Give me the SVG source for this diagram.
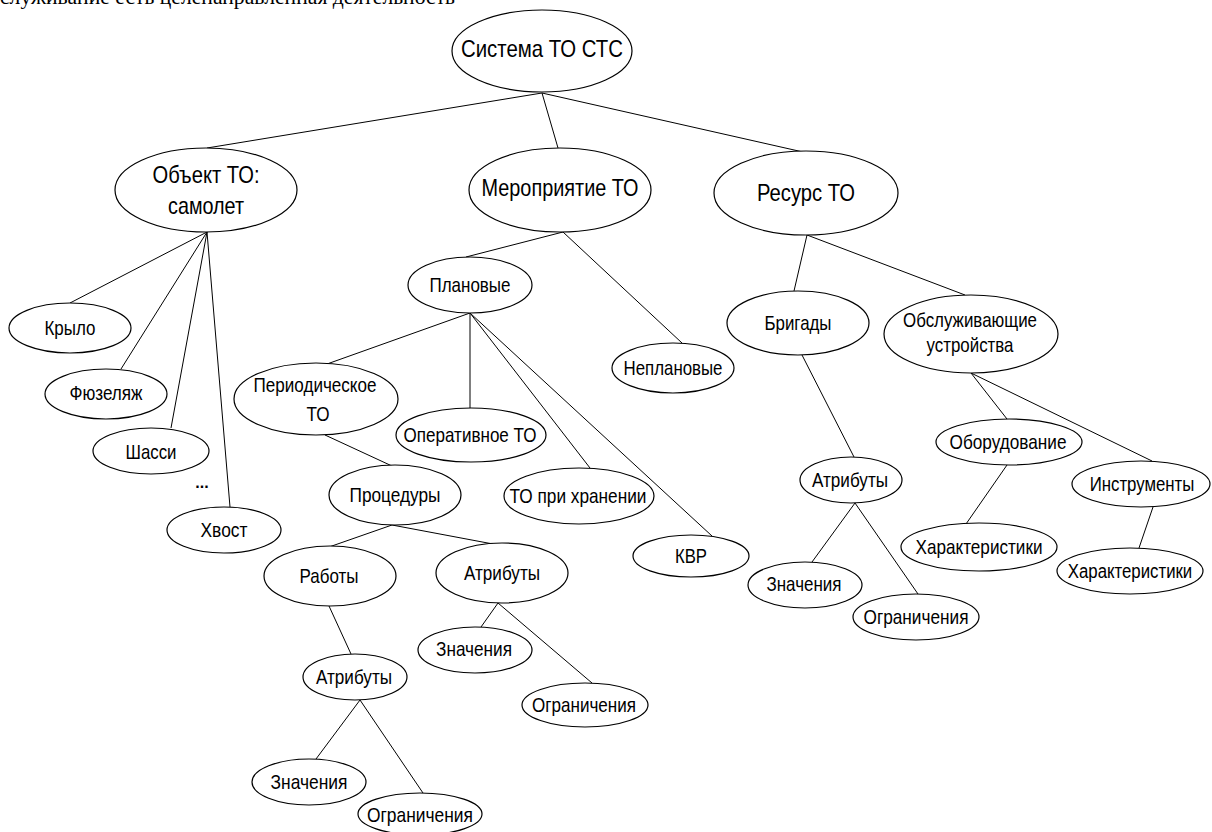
<svg xmlns="http://www.w3.org/2000/svg" width="1212" height="832" viewBox="0 0 1212 832">
<style>
.n ellipse{fill:#fff;stroke:#000;stroke-width:1.2}
.n text{font-family:"Liberation Sans",Arial,sans-serif;font-size:21px;fill:#000;text-anchor:middle}
.n text.L{font-size:24px}
#edges line{stroke:#000;stroke-width:1}
.top{font-family:"Liberation Serif","Times New Roman",serif;font-size:20px;fill:#000}
</style>
<rect width="1212" height="832" fill="#fff"/>
<text class="top" x="0" y="4" textLength="455" lengthAdjust="spacingAndGlyphs">служивание есть целенаправленная деятельность</text>
<g id="edges">
<line x1="542" y1="93" x2="207" y2="148"/>
<line x1="542" y1="93" x2="558" y2="148"/>
<line x1="542" y1="93" x2="803" y2="152"/>
<line x1="207" y1="232" x2="70" y2="303"/>
<line x1="207" y1="232" x2="121" y2="369"/>
<line x1="207" y1="232" x2="171" y2="428"/>
<line x1="207" y1="232" x2="230" y2="507"/>
<line x1="563" y1="232" x2="466" y2="257"/>
<line x1="563" y1="232" x2="682" y2="343"/>
<line x1="807" y1="235" x2="794" y2="291"/>
<line x1="807" y1="235" x2="965" y2="295"/>
<line x1="470" y1="313" x2="327" y2="364"/>
<line x1="470" y1="313" x2="470" y2="408"/>
<line x1="470" y1="313" x2="590" y2="468"/>
<line x1="470" y1="313" x2="712" y2="536"/>
<line x1="802" y1="355" x2="854" y2="457"/>
<line x1="971" y1="373" x2="1007" y2="419"/>
<line x1="971" y1="373" x2="1152" y2="461"/>
<line x1="1007" y1="465" x2="966" y2="524"/>
<line x1="1153" y1="507" x2="1139" y2="548"/>
<line x1="855" y1="503" x2="812" y2="562"/>
<line x1="855" y1="503" x2="918" y2="594"/>
<line x1="325" y1="435" x2="392" y2="466"/>
<line x1="392" y1="525" x2="329" y2="547"/>
<line x1="392" y1="525" x2="493" y2="544"/>
<line x1="329" y1="606" x2="351" y2="654"/>
<line x1="498" y1="603" x2="481" y2="627"/>
<line x1="498" y1="603" x2="592" y2="683"/>
<line x1="360" y1="700" x2="316" y2="759"/>
<line x1="360" y1="700" x2="423" y2="793"/>
</g>
<g id="n_root" class="n"><ellipse cx="542" cy="51" rx="90" ry="41"/><text class="L" x="542" y="57" textLength="162" lengthAdjust="spacingAndGlyphs">Система ТО СТС</text></g>
<g id="n_obj" class="n"><ellipse cx="206" cy="190" rx="91" ry="42"/><text class="L" x="206" y="183" textLength="107" lengthAdjust="spacingAndGlyphs">Объект ТО:</text><text class="L" x="206" y="214" textLength="76" lengthAdjust="spacingAndGlyphs">самолет</text></g>
<g id="n_mer" class="n"><ellipse cx="560" cy="190" rx="91" ry="42"/><text class="L" x="560" y="196" textLength="157" lengthAdjust="spacingAndGlyphs">Мероприятие ТО</text></g>
<g id="n_res" class="n"><ellipse cx="806" cy="193" rx="92" ry="42"/><text class="L" x="806" y="201" textLength="98" lengthAdjust="spacingAndGlyphs">Ресурс ТО</text></g>
<g id="n_kry" class="n"><ellipse cx="70" cy="328" rx="61" ry="25"/><text x="70" y="335" textLength="51" lengthAdjust="spacingAndGlyphs">Крыло</text></g>
<g id="n_fuz" class="n"><ellipse cx="106" cy="394" rx="61" ry="25"/><text x="106" y="400" textLength="73" lengthAdjust="spacingAndGlyphs">Фюзеляж</text></g>
<g id="n_sha" class="n"><ellipse cx="151" cy="451" rx="58" ry="23"/><text x="151" y="459" textLength="51" lengthAdjust="spacingAndGlyphs">Шасси</text></g>
<g id="n_dots" class="n"><text x="202" y="488" style="font-size:16px;font-weight:bold">...</text></g>
<g id="n_hv" class="n"><ellipse cx="224" cy="530" rx="57" ry="23"/><text x="224" y="537" textLength="47" lengthAdjust="spacingAndGlyphs">Хвост</text></g>
<g id="n_plan" class="n"><ellipse cx="470" cy="285" rx="62" ry="28"/><text x="470" y="292" textLength="81" lengthAdjust="spacingAndGlyphs">Плановые</text></g>
<g id="n_nepl" class="n"><ellipse cx="673" cy="368" rx="61" ry="25"/><text x="673" y="375" textLength="99" lengthAdjust="spacingAndGlyphs">Неплановые</text></g>
<g id="n_brig" class="n"><ellipse cx="798" cy="323" rx="71" ry="32"/><text x="798" y="330" textLength="67" lengthAdjust="spacingAndGlyphs">Бригады</text></g>
<g id="n_obsl" class="n"><ellipse cx="971" cy="334" rx="87" ry="39"/><text x="970" y="327" textLength="134" lengthAdjust="spacingAndGlyphs">Обслуживающие</text><text x="970" y="352" textLength="87" lengthAdjust="spacingAndGlyphs">устройства</text></g>
<g id="n_per" class="n"><ellipse cx="316" cy="399" rx="82" ry="36"/><text x="315" y="392" textLength="123" lengthAdjust="spacingAndGlyphs">Периодическое</text><text x="318" y="421" textLength="23" lengthAdjust="spacingAndGlyphs">ТО</text></g>
<g id="n_oper" class="n"><ellipse cx="471" cy="435" rx="75" ry="27"/><text x="470" y="442" textLength="133" lengthAdjust="spacingAndGlyphs">Оперативное ТО</text></g>
<g id="n_hran" class="n"><ellipse cx="579" cy="496" rx="75" ry="28"/><text x="578" y="503" textLength="137" lengthAdjust="spacingAndGlyphs">ТО при хранении</text></g>
<g id="n_kvr" class="n"><ellipse cx="691" cy="556" rx="58" ry="21"/><text x="691" y="563" textLength="32" lengthAdjust="spacingAndGlyphs">КВР</text></g>
<g id="n_proc" class="n"><ellipse cx="395" cy="495" rx="66" ry="30"/><text x="395" y="502" textLength="91" lengthAdjust="spacingAndGlyphs">Процедуры</text></g>
<g id="n_rab" class="n"><ellipse cx="330" cy="576" rx="66" ry="30"/><text x="329" y="583" textLength="59" lengthAdjust="spacingAndGlyphs">Работы</text></g>
<g id="n_atr1" class="n"><ellipse cx="502" cy="573" rx="66" ry="30"/><text x="502" y="580" textLength="76" lengthAdjust="spacingAndGlyphs">Атрибуты</text></g>
<g id="n_zn1" class="n"><ellipse cx="475" cy="650" rx="57" ry="23"/><text x="474" y="656" textLength="76" lengthAdjust="spacingAndGlyphs">Значения</text></g>
<g id="n_og1" class="n"><ellipse cx="585" cy="705" rx="63" ry="22"/><text x="584" y="712" textLength="104" lengthAdjust="spacingAndGlyphs">Ограничения</text></g>
<g id="n_atr2" class="n"><ellipse cx="355" cy="677" rx="52" ry="23"/><text x="354" y="684" textLength="76" lengthAdjust="spacingAndGlyphs">Атрибуты</text></g>
<g id="n_zn2" class="n"><ellipse cx="309" cy="782" rx="57" ry="23"/><text x="309" y="789" textLength="77" lengthAdjust="spacingAndGlyphs">Значения</text></g>
<g id="n_og2" class="n"><ellipse cx="420" cy="814" rx="62" ry="21"/><text x="420" y="822" textLength="106" lengthAdjust="spacingAndGlyphs">Ограничения</text></g>
<g id="n_atr3" class="n"><ellipse cx="851" cy="480" rx="51" ry="23"/><text x="850" y="487" textLength="76" lengthAdjust="spacingAndGlyphs">Атрибуты</text></g>
<g id="n_zn3" class="n"><ellipse cx="805" cy="585" rx="57" ry="23"/><text x="804" y="591" textLength="75" lengthAdjust="spacingAndGlyphs">Значения</text></g>
<g id="n_og3" class="n"><ellipse cx="916" cy="617" rx="63" ry="23"/><text x="916" y="624" textLength="105" lengthAdjust="spacingAndGlyphs">Ограничения</text></g>
<g id="n_obor" class="n"><ellipse cx="1009" cy="442" rx="73" ry="23"/><text x="1008" y="449" textLength="117" lengthAdjust="spacingAndGlyphs">Оборудование</text></g>
<g id="n_instr" class="n"><ellipse cx="1141" cy="484" rx="69" ry="23"/><text transform="translate(1142,491) scale(0.8,1)" x="0" y="0">Инструменты</text></g>
<g id="n_har1" class="n"><ellipse cx="979" cy="547" rx="78" ry="24"/><text x="979" y="554" textLength="127" lengthAdjust="spacingAndGlyphs">Характеристики</text></g>
<g id="n_har2" class="n"><ellipse cx="1130" cy="571" rx="73" ry="23"/><text transform="translate(1130,578) scale(0.8,1)" x="0" y="0">Характеристики</text></g>
</svg>
